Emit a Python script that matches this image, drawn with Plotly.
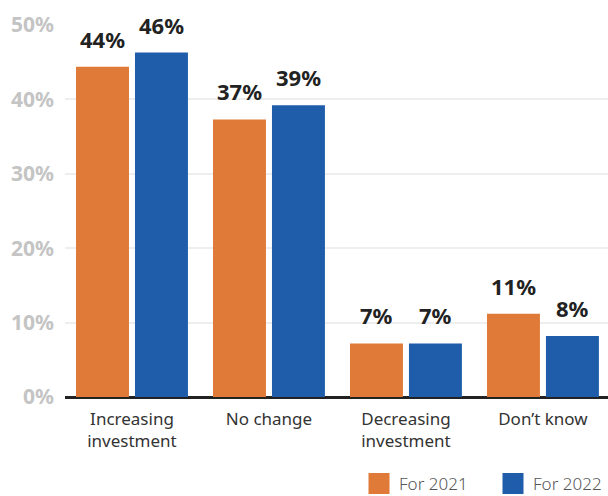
import plotly.graph_objects as go

categories = ["Increasing<br>investment", "No change", "Decreasing<br>investment", "Don\u2019t know"]
share_2021 = [44.4, 37.3, 7.2, 11.2]
share_2022 = [46.3, 39.2, 7.2, 8.2]
series_names = ["For 2021", "For 2022"]
tick_values = [0, 10, 20, 30, 40, 50]
tick_labels = ["0%", "10%", "20%", "30%", "40%", "50%"]

ORANGE = "#DF7A38"
BLUE = "#1F5DAB"
FONT = "Noto Sans, Open Sans, sans-serif"

fig = go.Figure()
series = [(series_names[0], share_2021, ORANGE), (series_names[1], share_2022, BLUE)]
for name, vals, color in series:
    fig.add_trace(go.Bar(
        x=categories, y=vals, name=name, showlegend=False,
        marker=dict(color=color, line=dict(width=0)),
    ))

# legend entries with large square swatches
for name, vals, color in series:
    fig.add_trace(go.Scatter(
        x=[None], y=[None], mode="markers", name=name,
        marker=dict(symbol="square", size=16, color=color,
                    line=dict(width=5, color=color)),
    ))

# value labels above each bar, offset to the bar's slot in the group
slot_shift = 29.5
for i, (name, vals, color) in enumerate(series):
    for cat, v in zip(categories, vals):
        fig.add_annotation(
            x=cat, y=v, text=f"{v:.0f}%", showarrow=False,
            xshift=(-slot_shift if i == 0 else slot_shift), yshift=11,
            yanchor="bottom",
            font=dict(family=FONT, size=22, color="#222222", weight="bold"),
        )

fig.update_layout(
    width=608, height=496,
    margin=dict(l=65, r=0, t=25, b=99, autoexpand=False),
    paper_bgcolor="white", plot_bgcolor="white",
    barmode="group", bargap=0.139, bargroupgap=0.102,
    font=dict(family=FONT),
    showlegend=True,
    legend=dict(
        orientation="h", x=1.035, xanchor="right", y=-0.234, yanchor="middle",
        font=dict(family=FONT, size=17, color="#555555", weight=300),
        itemwidth=30, tracegroupgap=0,
        entrywidth=89, entrywidthmode="pixels",
    ),
)
fig.update_xaxes(
    range=[-0.489, 3.475], showgrid=False, zeroline=False,
    showline=False, ticks="", ticklabelstandoff=10,
    tickfont=dict(family=FONT, size=17, color="#333333"),
)
fig.update_yaxes(
    range=[0, 50], tickvals=tick_values, ticktext=tick_labels,
    showgrid=True, gridcolor="#EEEEEE", gridwidth=1.5,
    zeroline=True, zerolinecolor="#222222", zerolinewidth=2.5,
    showline=False, ticks="", ticklabelstandoff=10,
    tickfont=dict(family=FONT, size=21, color="#C4C4C4", weight="bold"),
)

fig.write_html("out.html")
